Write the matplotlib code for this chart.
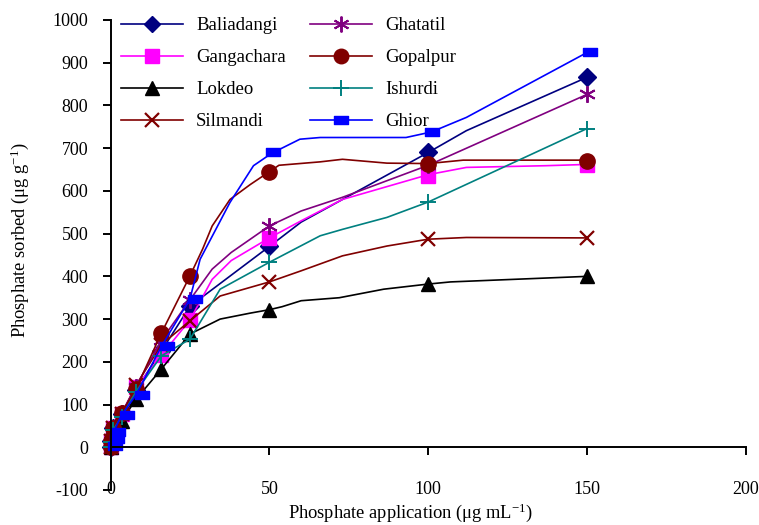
import matplotlib
matplotlib.use("Agg")
import matplotlib.pyplot as plt
from matplotlib.path import Path
import numpy as np

plt.rcParams['font.family'] = ['Liberation Serif']
plt.rcParams['mathtext.fontset'] = 'custom'
plt.rcParams['mathtext.rm'] = 'Liberation Serif'
plt.rcParams['mathtext.it'] = 'Liberation Serif'

series = ["Baliadangi", "Gangachara", "Lokdeo", "Silmandi",
          "Ghatatil", "Gopalpur", "Ishurdi", "Ghior"]

# marker points (equilibrium P, sorbed P)
mx_common = [0, 0.2, 0.8, 3.5, 8, 16, 25, 50, 100, 150]
mx_ghior = [1.4, 1.9, 2.5, 5.1, 9.8, 17.7, 26.6, 51, 101.3, 151]

my_baliadangi = [0, 15, 45, 78, 135, 225, 330, 470, 690, 866]
my_gangachara = [0, 15, 45, 78, 140, 215, 298, 490, 635, 660]
my_lokdeo = [0, 10, 35, 62, 112, 183, 265, 322, 382, 400]
my_silmandi = [0, 15, 45, 78, 145, 240, 296, 387, 487, 490]
my_ghatatil = [0, 15, 45, 80, 142, 250, 345, 518, 660, 826]
my_gopalpur = [0, 15, 45, 80, 136, 267, 401, 645, 664, 671]
my_ishurdi = [0, 12, 40, 72, 130, 214, 253, 433, 574, 746]
my_ghior = [2, 19, 36, 76, 122, 236, 347, 690, 737, 924]

# line vertices
lx_baliadangi = [0, 0.2, 0.8, 3.5, 8, 16, 25, 50, 60, 100, 112, 150]
ly_baliadangi = [0, 15, 45, 78, 135, 225, 330, 470, 527, 690, 741, 866]
lx_gangachara = [0, 0.2, 0.8, 3.5, 8, 16, 25, 32, 38, 50, 60, 73, 100, 112, 137, 150]
ly_gangachara = [0, 15, 45, 78, 140, 215, 298, 393, 437, 490, 530, 580, 638, 655, 659, 662]
lx_lokdeo = [0, 0.2, 0.8, 3.5, 8, 16, 25, 34.5, 44, 50, 54, 60, 72, 86, 100, 107, 150]
ly_lokdeo = [0, 10, 35, 62, 112, 183, 265, 300, 314, 322, 329, 343, 350, 370, 382, 387, 400]
lx_silmandi = [0, 0.2, 0.8, 3.5, 8, 16, 25, 34.5, 50, 60, 73, 87, 100, 112, 150]
ly_silmandi = [0, 15, 45, 78, 145, 240, 296, 354, 387, 413, 448, 471, 487, 491, 490]
lx_ghatatil = [0, 0.2, 0.8, 3.5, 8, 16, 25, 32, 38, 50, 60, 73, 100, 150]
ly_ghatatil = [0, 15, 45, 80, 142, 250, 345, 417, 456, 518, 553, 585, 660, 826]
lx_gopalpur = [0, 0.2, 0.8, 3.5, 8, 16, 25, 29, 32, 37.6, 44, 50, 53, 66, 73, 87, 100, 111, 150]
ly_gopalpur = [0, 15, 45, 80, 136, 267, 401, 464, 518, 580, 615, 645, 660, 668, 674, 665, 664, 672, 672]
lx_ishurdi = [0, 0.2, 0.8, 3.5, 8, 16, 25, 34.5, 50, 66, 73, 87, 100, 150]
ly_ishurdi = [0, 12, 40, 72, 130, 214, 253, 370, 433, 495, 510, 538, 574, 746]
lx_ghior = [0, 0.3, 1, 3.5, 8, 16, 25, 28.2, 37.6, 45, 50.7, 59.6, 66, 93, 101, 112, 150]
ly_ghior = [0, 19, 36, 76, 122, 236, 347, 440, 573, 659, 688, 721, 725, 725, 738, 772, 924]

xticks = [50, 100, 150, 200]
yticks = list(range(-100, 1001, 100))

rect = Path([(-0.8, -0.45), (0.8, -0.45), (0.8, 0.45), (-0.8, 0.45), (-0.8, -0.45)],
            [Path.MOVETO, Path.LINETO, Path.LINETO, Path.LINETO, Path.CLOSEPOLY])

styles = [
    dict(color="#000080", marker="D", ms=9),
    dict(color="#FF00FF", marker="s", ms=10),
    dict(color="#000000", marker="^", ms=10),
    dict(color="#800000", marker="x", ms=10, mew=1.6),
    dict(color="#800080", marker=(6, 2, 0), ms=12, mew=1.4),
    dict(color="#800000", marker="o", ms=11),
    dict(color="#008080", marker="+", ms=12, mew=1.4),
    dict(color="#0000FF", marker=rect, ms=10),
]

mxs = [mx_common] * 7 + [mx_ghior]
mys = [my_baliadangi, my_gangachara, my_lokdeo, my_silmandi,
       my_ghatatil, my_gopalpur, my_ishurdi, my_ghior]
lxs = [lx_baliadangi, lx_gangachara, lx_lokdeo, lx_silmandi,
       lx_ghatatil, lx_gopalpur, lx_ishurdi, lx_ghior]
lys = [ly_baliadangi, ly_gangachara, ly_lokdeo, ly_silmandi,
       ly_ghatatil, ly_gopalpur, ly_ishurdi, ly_ghior]

fig = plt.figure(figsize=(7.59, 5.25), dpi=100)
ax = fig.add_axes([110.5 / 759, 35 / 525, (746 - 110.5) / 759, (490 - 20) / 525])

handles = []
for name, st, mx, my, lx, ly in zip(series, styles, mxs, mys, lxs, lys):
    ax.plot(lx, ly, color=st["color"], lw=1.2, clip_on=False)
    ax.plot(mx, my, linestyle="none", marker=st["marker"], ms=st["ms"],
            mew=st.get("mew", 1.0), color=st["color"], clip_on=False)
    h, = ax.plot([], [], color=st["color"], lw=1.2, marker=st["marker"],
                 ms=st["ms"] * 0.95, mew=st.get("mew", 1.0), label=name)
    handles.append(h)

ax.set_xlim(0, 200)
ax.set_ylim(-100, 1000)
ax.spines['right'].set_visible(False)
ax.spines['top'].set_visible(False)
ax.spines['bottom'].set_position(('data', 0))
ax.spines['left'].set_linewidth(1.4)
ax.spines['bottom'].set_linewidth(1.4)
ax.set_xticks([0] + xticks)
ax.set_xticklabels(["0"] + [str(t) for t in xticks])
ax.set_yticks(yticks)
ax.set_yticklabels([str(t) for t in yticks])
ax.tick_params(axis='x', direction='out', length=6, width=1.4, pad=18, labelsize=13)
ax.tick_params(axis='y', direction='out', length=6, width=1.4, pad=10, labelsize=13)
ax.xaxis.get_major_ticks()[0].tick1line.set_visible(False)

fig.text(410 / 759, 1 - 513 / 525, 'Phosphate application (μg mL$^{-1}$)',
         ha='center', va='center', fontsize=13.3)
fig.text(20 / 759, 1 - 240 / 525, 'Phosphate sorbed (μg g$^{-1}$)',
         ha='center', va='center', rotation=90, fontsize=13.3)

fig.legend(handles=handles, loc='upper left', bbox_to_anchor=(121 / 759, 1 - 17 / 525),
           ncol=2, frameon=False, fontsize=13.5, handlelength=3.3, handletextpad=0.7,
           columnspacing=1.3, labelspacing=0.8, borderaxespad=0, borderpad=0)

fig.savefig("out.png", dpi=100)
